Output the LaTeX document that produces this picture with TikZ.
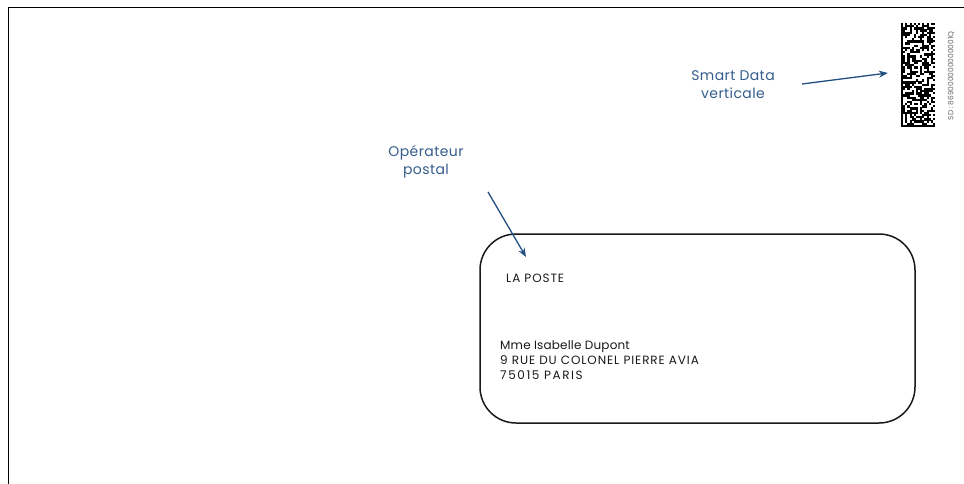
\documentclass[tikz,border=0pt]{standalone}
\usepackage{fontspec}
\setmainfont{Poppins}
\newfontfamily\lblfont[LetterSpace=3]{Poppins}
\newfontfamily\addrfont[LetterSpace=1.5]{Poppins}
\newfontfamily\capsfont[LetterSpace=7.5]{Poppins}
\newfontfamily\digfont[LetterSpace=13]{Poppins}
\usetikzlibrary{arrows.meta}
\definecolor{lblue}{RGB}{52,92,140}
\definecolor{ablue}{RGB}{35,80,130}
\tikzset{
  lbl/.style={text=lblue, font=\lblfont\fontsize{14}{18.5}\selectfont, align=center, inner sep=0pt},
  addr/.style={text=black!90, font=\fontsize{12}{15}\selectfont, align=left, inner sep=0pt},
  callout/.style={draw=ablue, line width=1.3pt, -{Stealth[length=9pt,width=7pt]}},
  envbox/.style={draw=black!90, line width=1.5pt, rounded corners=36pt, minimum width=435pt, minimum height=189pt, inner sep=0pt},
  frameline/.style={draw=black, line width=1.5pt},
}
\begin{document}
\begin{tikzpicture}[x=1pt,y=-1pt]
\useasboundingbox (0,0) rectangle (964,484);
% partial outer frame
\coordinate (ftl) at (8.5,7.5);
\coordinate (ftr) at (964,7.5);
\coordinate (fbl) at (8.5,484);
\draw[frameline] (ftr) -- (ftl) -- (fbl);
% envelope window
\node[envbox] (env) at (697.5,328.5) {};
\node[addr, anchor=west] (poste) at (506,278) {\capsfont LA POSTE};
\node[addr, anchor=north west] (address) at (500,340) {{\addrfont Mme Isabelle Dupont}\\{\capsfont 9 RUE DU COLONEL PIERRE AVIA}\\{\digfont 75015 PARIS}};
% labels
\node[lbl] (op) at (426,162) {Opérateur\\postal};
\node[lbl] (sd) at (733,84.5) {Smart Data\\verticale};
% data matrix
\node[minimum width=34pt, minimum height=104pt, inner sep=0pt] (dm) at (918,75) {};
\begin{scope}[shift={(901,23)}]
  \pgfmathsetseed{7}
  \def\m{2.125}
  % solid left and bottom finder
  \fill[black] (0,0) rectangle (\m,104);
  \fill[black] (0,104-\m) rectangle (34,104);
  % alternating top and right
  \foreach \i in {0,2,...,15} { \fill[black] (\i*\m,0) rectangle ({(\i+1)*\m},\m); }
  \foreach \j in {0,2,...,47} { \fill[black] (34-\m,{\j*104/48}) rectangle (34,{(\j+1)*104/48}); }
  \foreach \i in {1,...,14} {
    \foreach \j in {1,...,46} {
      \pgfmathparse{rnd<0.5 ? 1 : 0}
      \ifnum\pgfmathresult=1
        \fill[black] (\i*\m,{\j*104/48}) rectangle ({(\i+1)*\m+0.05},{(\j+1)*104/48+0.05});
      \fi
    }
  }
\end{scope}
\node[rotate=90, text=black!60, font=\fontsize{7.4}{8}\selectfont, inner sep=0pt] (sdcode) at (951,76) {SD : 869000000000001Q};
% callout arrows
\coordinate (opstart) at (488,192);
\coordinate (opend) at (526,257);
\draw[callout] (opstart) -- (opend);
\coordinate (sdstart) at (802,84);
\coordinate (sdend) at ([xshift=-13pt,yshift=2pt]dm.west);
\draw[callout] (sdstart) -- (sdend);
\end{tikzpicture}
\end{document}
